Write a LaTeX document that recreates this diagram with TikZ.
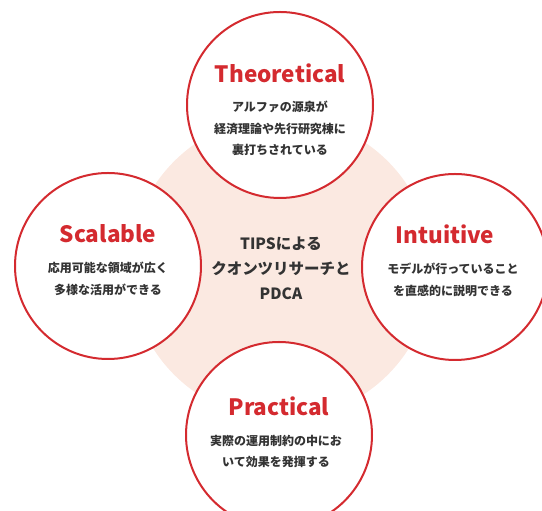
\documentclass[tikz,border=0pt]{standalone}
\usepackage{fontspec}
\setmainfont{Noto Sans CJK JP}
\usepackage{tikz}
\usetikzlibrary{positioning}
\definecolor{tipsred}{HTML}{D42A2F}
\definecolor{tipspeach}{HTML}{FBE9E1}
\definecolor{tipstext}{HTML}{333333}

\begin{document}
\begin{tikzpicture}[x=1pt, y=1pt,
    ring/.style={circle, draw=tipsred, line width=2pt, fill=white, minimum size=186pt, inner sep=0pt},
    title/.style={text=tipsred, font=\fontsize{22.5}{27}\selectfont\bfseries, inner sep=0pt},
    desc/.style={text=tipstext, font=\fontsize{12}{21.5}\selectfont\bfseries, align=center, anchor=north, inner sep=0pt}]
    \useasboundingbox (0,0) rectangle (542,511);
    \node[circle, fill=tipspeach, minimum size=302pt] (core) at (281,243) {};
    \node[ring] (theo) at (280,406) {};
    \node[ring] (scal) at (108,245) {};
    \node[ring] (intu) at (455,244) {};
    \node[ring] (prac) at (279,76) {};
    \node[text=tipstext, font=\fontsize{15.5}{25}\selectfont\bfseries, align=center] (tips) at (core) {TIPSによる\\クオンツリサーチと\\PDCA};
    % titles
    \node[title] (theot) at ([yshift=32pt]theo.center) {Theoretical};
    \node[title] (scalt) at ([yshift=32pt]scal.center) {Scalable};
    \node[title] (intut) at ([xshift=-10pt, yshift=33pt]intu.center) {Intuitive};
    \node[title] (pract) at ([yshift=29pt]prac.center) {Practical};
    % descriptions
    \node[desc] (theod) at ([yshift=4pt]theo.center) {アルファの源泉が\\経済理論や先行研究棟に\\裏打ちされている};
    \node[desc] (scald) at ([yshift=4pt]scal.center) {応用可能な領域が広く\\多様な活用ができる};
    \node[desc] (intud) at ([xshift=-2pt, yshift=4pt]intu.center) {モデルが行っていること\\を直感的に説明できる};
    \node[desc] (pracd) at ([xshift=-3pt, yshift=0pt]prac.center) {実際の運用制約の中にお\\いて効果を発揮する};
\end{tikzpicture}
\end{document}
